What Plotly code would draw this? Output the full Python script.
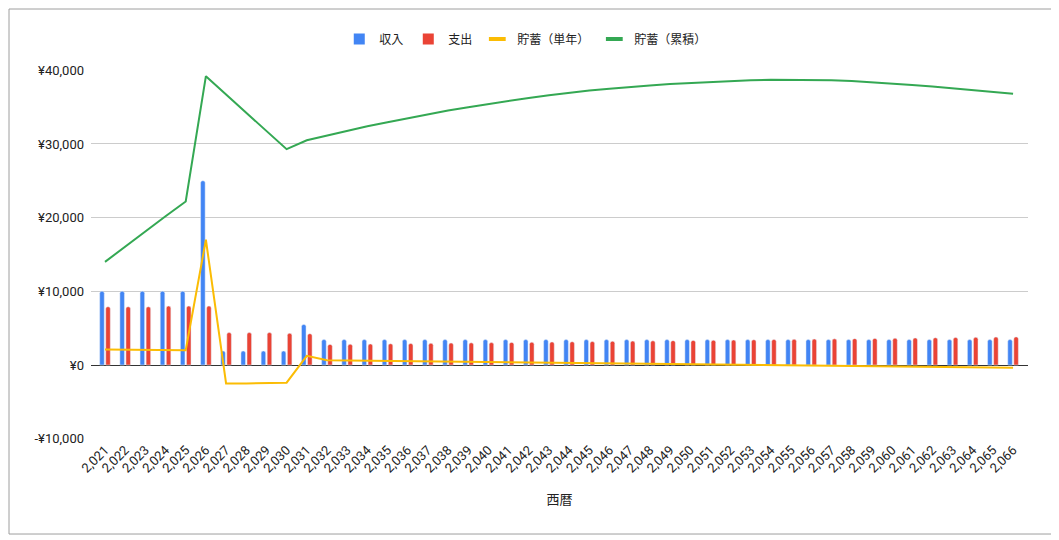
import plotly.graph_objects as go

# 西暦 2021-2066
years = list(range(2021, 2067))
year_labels = [f"{y:,}" for y in years]

income = [10000, 10000, 10000, 10000, 10000, 25000, 1900, 1900, 1900, 1900, 5500,
          3450, 3450, 3450, 3450, 3450, 3450, 3450, 3450, 3450, 3450,
          3450, 3450, 3450, 3450, 3450, 3450, 3450, 3450, 3450, 3450,
          3450, 3450, 3450, 3450, 3450, 3450, 3450, 3450, 3450, 3450,
          3450, 3450, 3450, 3450, 3450]

expense = [7900, 7900, 7900, 8000, 8000, 8000, 4400, 4400, 4400, 4300, 4250,
           2800, 2830, 2860, 2890, 2920, 2950, 2980, 3010, 3040, 3070,
           3100, 3130, 3160, 3190, 3220, 3250, 3280, 3310, 3340, 3370,
           3400, 3430, 3460, 3490, 3520, 3550, 3580, 3610, 3640, 3670,
           3700, 3730, 3760, 3790, 3820]

saving_year = [2100, 2100, 2100, 2000, 2000, 17000, -2500, -2500, -2500, -2400, 1250,
               650, 620, 590, 560, 530, 500, 470, 440, 410, 380,
               350, 320, 290, 260, 230, 200, 170, 140, 110, 80,
               50, 20, -10, -40, -70, -100, -130, -160, -190, -220,
               -250, -280, -310, -340, -370]

saving_total = [14000, 16100, 18200, 20200, 22200, 39200, 36700, 34200, 31700, 29300, 30500,
                31150, 31750, 32400, 32950, 33500, 34000, 34550, 35000, 35450, 35850,
                36250, 36600, 36950, 37250, 37500, 37750, 37950, 38150, 38300, 38450,
                38550, 38650, 38700, 38700, 38700, 38650, 38550, 38400, 38250, 38000,
                37800, 37550, 37300, 37050, 36800]

y_ticks = [-10000, 0, 10000, 20000, 30000, 40000]
y_tick_labels = ["-¥10,000", "¥0", "¥10,000", "¥20,000", "¥30,000", "¥40,000"]

names = ["収入", "支出", "貯蓄（単年）", "貯蓄（累積）"]
colors = ["#4285F4", "#EA4335", "#FBBC04", "#34A853"]

fig = go.Figure()
fig.add_trace(go.Bar(x=year_labels, y=income, name=names[0], showlegend=False,
                     marker=dict(color=colors[0], cornerradius=2)))
fig.add_trace(go.Bar(x=year_labels, y=expense, name=names[1], showlegend=False,
                     marker=dict(color=colors[1], cornerradius=2)))
fig.add_trace(go.Scatter(x=year_labels, y=saving_year, name=names[2], mode="lines",
                         showlegend=False, line=dict(color=colors[2], width=2)))
fig.add_trace(go.Scatter(x=year_labels, y=saving_total, name=names[3], mode="lines",
                         showlegend=False, line=dict(color=colors[3], width=2)))

# legend entries: squares for bars, short dashes for lines (like Sheets)
for i, (nm, col) in enumerate(zip(names, colors)):
    if i < 2:
        mk = dict(symbol="square", size=11, color=col)
    else:
        mk = dict(symbol="line-ew", size=12, color=col, line=dict(color=col, width=4))
    fig.add_trace(go.Scatter(x=[None], y=[None], mode="markers", name=nm,
                             marker=mk, showlegend=True))

# page body has an 8px offset, so the figure is sized/margined to compensate
fig.update_layout(
    width=1051, height=532,
    margin=dict(l=83, r=31, t=62, b=101),
    paper_bgcolor="white", plot_bgcolor="white",
    font=dict(family="Roboto, Arial, 'Noto Sans CJK JP', sans-serif", size=13, color="#222"),
    barmode="group", bargap=0.4, bargroupgap=0.25,
    showlegend=True,
    legend=dict(orientation="h", x=0.464, xanchor="center",
                y=1.084, yanchor="middle", font=dict(size=12, color="#222")),
    shapes=[dict(type="rect", xref="paper", yref="paper",
                 x0=-0.0875, x1=1.0267, y0=-0.2575, y1=1.1653,
                 line=dict(color="#9e9e9e", width=1), fillcolor="rgba(0,0,0,0)")],
)

fig.update_xaxes(type="category", range=[-0.694, 45.74], tickangle=-45,
                 tickfont=dict(size=13, color="#222"), showgrid=False,
                 title=dict(text="西暦", font=dict(size=13, color="#222"), standoff=20))
fig.update_yaxes(range=[-10040, 40040], tickvals=y_ticks, ticktext=y_tick_labels,
                 showgrid=True, gridcolor="#cccccc", gridwidth=1,
                 zeroline=True, zerolinecolor="#333333", zerolinewidth=1,
                 tickfont=dict(size=13, color="#222"), ticklabelstandoff=6)

fig.write_html("out.html")
